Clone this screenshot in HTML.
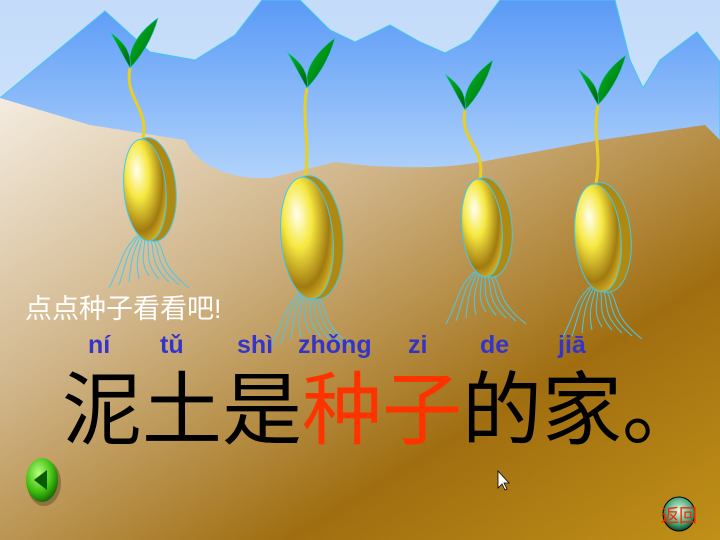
<!DOCTYPE html>
<html><head><meta charset="utf-8"><style>
html,body{margin:0;padding:0;width:720px;height:540px;overflow:hidden}
svg{display:block}
</style></head><body>
<svg width="720" height="540" viewBox="0 0 720 540" xmlns="http://www.w3.org/2000/svg">
<defs>
<linearGradient id="sky" x1="0" y1="0" x2="0" y2="1"><stop offset="0" stop-color="#c4dcfa"/><stop offset="1" stop-color="#e4f0fe"/></linearGradient>
<linearGradient id="mtn" x1="0" y1="0" x2="0" y2="1"><stop offset="0" stop-color="#5a9af6"/><stop offset="1" stop-color="#bcdafc"/></linearGradient>
<linearGradient id="ground" x1="0" y1="0" x2="1" y2="1"><stop offset="0" stop-color="#f4ece0"/><stop offset="0.35" stop-color="#cfb386"/><stop offset="0.7" stop-color="#a06e10"/><stop offset="1" stop-color="#c09018"/></linearGradient>
<radialGradient id="seed" cx="0.35" cy="0.3" r="0.8"><stop offset="0" stop-color="#fffff0"/><stop offset="0.35" stop-color="#f6e840"/><stop offset="0.75" stop-color="#a07a10"/><stop offset="1" stop-color="#e8c830"/></radialGradient>
<linearGradient id="leaf" x1="0" y1="0" x2="1" y2="1"><stop offset="0" stop-color="#00c020"/><stop offset="1" stop-color="#006010"/></linearGradient>
<radialGradient id="gbtn" cx="0.4" cy="0.35" r="0.7"><stop offset="0" stop-color="#b8ff80"/><stop offset="0.6" stop-color="#40c010"/><stop offset="1" stop-color="#106000"/></radialGradient>
<radialGradient id="rbtn" cx="0.5" cy="0.4" r="0.6"><stop offset="0" stop-color="#e0ffe8"/><stop offset="0.7" stop-color="#40a070"/><stop offset="1" stop-color="#104020"/></radialGradient>
</defs>
<rect width="720" height="540" fill="url(#sky)"/>
<path d="M0,98 L105,11 L150,52 L195,60 L235,35 L262,0 L300,0 L330,30 L355,42 L390,25 L420,42 L445,53 L470,40 L500,0 L615,0 L630,60 L643,88 L660,60 L697,32 L720,62 L720,200 L0,200 Z" fill="url(#mtn)" stroke="#40c8f0" stroke-width="1"/>
<path d="M0,98 L90,125 L185,140 C195,160 220,180 270,178 L335,162 C380,168 440,170 480,162 L600,140 L705,125 L720,140 L720,540 L0,540 Z" fill="url(#ground)"/>
<g id="seeds"></g>
<text x="25" y="318" font-family="'Liberation Sans','Noto Sans CJK SC',sans-serif" font-size="27" fill="#ffffff">点点种子看看吧!</text>
<g font-family="'Liberation Sans','DejaVu Sans',sans-serif" font-weight="bold" font-size="25" fill="#3434c8">
<text x="88" y="353">ní</text><text x="160" y="353">tǔ</text><text x="237" y="353">shì</text><text x="298" y="353">zhǒng</text><text x="408" y="353">zi</text><text x="480" y="353">de</text><text x="558" y="353">jiā</text>
</g>
<text x="62" y="438" font-family="'Liberation Sans','Noto Sans CJK SC',sans-serif" font-size="80" fill="#000">泥土是<tspan fill="#ff3300">种子</tspan>的家。</text>
<g>
<ellipse cx="44" cy="483" rx="17" ry="23" fill="#000" opacity="0.25"/>
<ellipse cx="42" cy="480" rx="16" ry="22" fill="url(#gbtn)"/>
<path d="M34,480 L47,470 L47,490 Z" fill="#0a5a00"/>
</g>
<path d="M498,471 L498,488 L502,484 L505,490 L507,489 L504,483 L509,483 Z" fill="#fff" stroke="#000" stroke-width="0.8"/>
<g>
<ellipse cx="679" cy="514" rx="16" ry="17" fill="url(#rbtn)" stroke="#000" stroke-width="1"/>
<text x="679" y="522" text-anchor="middle" font-family="'Liberation Sans','Noto Sans CJK SC',sans-serif" font-size="18" fill="#ff2200">返回</text>
</g>
</svg>
<script>
const seedX=[145,307,482,598];
const seedY=[190,238,228,238];
const seedRx=[25,30,24,27];
const seedRy=[52,62,50,55];
const leafY=[68,88,110,105];
const leafX=[130,307,465,598];
const g=document.getElementById('seeds');
const NS='http://www.w3.org/2000/svg';
for(let i=0;i<seedX.length;i++){
 const grp=document.createElementNS(NS,'g');
 
 
 const x=seedX[i],y=seedY[i],rx=seedRx[i],ry=seedRy[i],top=y-ry;
 let roots='';
 for(let k=-4;k<=4;k++){roots+=`M${x+k*2},${y+ry-6} c${k*4},15 ${k*2-6},25 ${k*8+4},${40+Math.abs(k)*3} `;}
 const lx=leafX[i],ly=leafY[i];
 grp.innerHTML=`<path d="${roots}" stroke="#48c8ec" stroke-width="1" fill="none"/>
 <path d="M${x-2},${top} C${x+4},${top-30} ${lx-6},${ly+30} ${lx},${ly}" stroke="#e8d020" stroke-width="3" fill="none"/>
 <path d="M${lx},${ly} C${lx-4},${ly-22} ${lx+14},${ly-40} ${lx+28},${ly-50} C${lx+22},${ly-28} ${lx+10},${ly-10} ${lx},${ly} Z" fill="url(#leaf)" stroke="#30c0e0" stroke-width="0.6"/>
 <path d="M${lx},${ly} C${lx-8},${ly-14} ${lx-14},${ly-26} ${lx-20},${ly-36} C${lx-6},${ly-26} ${lx+2},${ly-16} ${lx},${ly} Z" fill="url(#leaf)" stroke="#30c0e0" stroke-width="0.6"/>
 <ellipse cx="${x+6}" cy="${y}" rx="${rx}" ry="${ry}" fill="#b08a10" stroke="#40c8f0" transform="rotate(-5 ${x} ${y})"/>
 <ellipse cx="${x}" cy="${y}" rx="${rx-4}" ry="${ry-1}" fill="url(#seed)" stroke="#40c8f0" transform="rotate(-5 ${x} ${y})"/>`;
 g.appendChild(grp);
}
</script>
</body></html>
